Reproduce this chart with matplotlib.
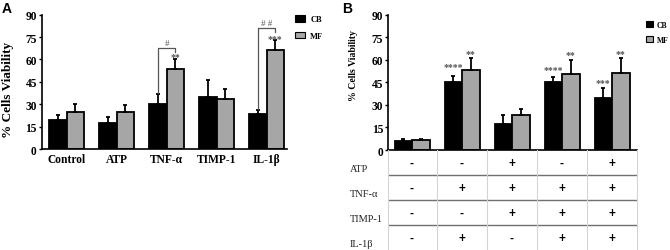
import numpy as np
import matplotlib.pyplot as plt
from matplotlib.patches import Patch

# Panel A data
groups_a = ["Control", "ATP", "TNF-α", "TIMP-1", "IL-1β"]
cb_a = [19.5, 17.2, 30.1, 35.0, 23.4]
cb_a_top = [22.5, 21.6, 37.0, 46.0, 26.1]
mf_a = [25.0, 24.8, 53.6, 33.5, 66.3]
mf_a_top = [30.0, 29.7, 60.3, 40.2, 73.0]

# Panel B data
cb_b = [6.0, 45.5, 17.6, 45.5, 34.7]
cb_b_top = [7.1, 49.0, 23.5, 48.8, 41.0]
mf_b = [6.5, 53.2, 23.0, 50.3, 51.2]
mf_b_top = [7.0, 61.5, 27.0, 60.0, 61.0]
stars_cb_b = ["", "****", "", "****", "***"]
stars_mf_b = ["", "**", "", "**", "**"]

table_rows = ["ATP", "TNF-α", "TIMP-1", "IL-1β"]
table_signs = [["-", "-", "+", "-", "+"],
               ["-", "+", "+", "+", "+"],
               ["-", "-", "+", "+", "+"],
               ["-", "+", "-", "+", "+"]]

serif = "Liberation Serif"
sans = "Liberation Sans"
gray = "#a6a6a6"
note = "#555555"
w = 0.35

fig = plt.figure(figsize=(6.7, 2.51), dpi=100)


def style(ax):
    for s in ["top", "right"]:
        ax.spines[s].set_visible(False)
    for s in ["left", "bottom"]:
        ax.spines[s].set_linewidth(1.2)
    ax.set_ylim(0, 90)
    ax.set_yticks(np.arange(0, 91, 15))
    ax.tick_params(axis="y", length=2.5, width=1, pad=1)
    ax.tick_params(axis="x", length=0)
    for t in ax.get_yticklabels():
        t.set_fontfamily(serif)
        t.set_fontweight("bold")
        t.set_fontsize(8.3)


def bars(ax, cb, cb_top, mf, mf_top):
    x = np.arange(len(cb))
    cb = np.array(cb)
    mf = np.array(mf)
    ekw = dict(elinewidth=1.3, capthick=1.3)
    ax.bar(x - w / 2, cb, w, color="black", edgecolor="black", linewidth=1.3,
           yerr=[np.zeros_like(cb), np.array(cb_top) - cb], capsize=1.4,
           error_kw=ekw, label="CB")
    ax.bar(x + w / 2, mf, w, color=gray, edgecolor="black", linewidth=1.3,
           yerr=[np.zeros_like(mf), np.array(mf_top) - mf], capsize=1.4,
           error_kw=ekw, label="MF")
    return x


# ---- Panel A ----
axa = fig.add_axes([41.7 / 670, 0.402, 245.3 / 670, 0.5355])
x = bars(axa, cb_a, cb_a_top, mf_a, mf_a_top)
axa.set_xlim(-0.5, 4.41)
axa.set_xticks(x)
axa.set_xticklabels(groups_a, fontfamily=serif, fontweight="bold", fontsize=8.3)
axa.tick_params(axis="x", pad=3)
style(axa)

# brackets
def bracket(ax, i, y, left_low, right_low):
    ax.plot([i - w / 2, i - w / 2, i + w / 2, i + w / 2],
            [left_low, y, y, right_low], color=note, lw=0.9)

bracket(axa, 2, 67.5, 37.8, 64.8)
bracket(axa, 4, 80.9, 26.8, 78.2)
axa.text(2, 71.0, "#", ha="center", va="center", fontsize=6.5, color=note, fontfamily=serif)
axa.text(4, 84.4, "# #", ha="center", va="center", fontsize=6.5, color=note, fontfamily=serif)
axa.text(2 + w / 2, 62.0, "**", ha="center", va="center", fontsize=7, color=note, fontfamily=serif, fontweight="bold")
axa.text(4 + w / 2, 73.8, "***", ha="center", va="center", fontsize=7, color=note, fontfamily=serif, fontweight="bold")

fig.text(8 / 670, 0.641, "% Cells Viability", rotation=90, ha="center", va="center",
         fontfamily=serif, fontweight="bold", fontsize=9.5)
fig.text(2 / 670, 1 - 2 / 251, "A", ha="left", va="top", fontfamily=sans, fontweight="bold", fontsize=10)

h = [Patch(facecolor="black", edgecolor="black", lw=0.8),
     Patch(facecolor=gray, edgecolor="black", lw=0.8)]
axa.legend(h, ["CB", "MF"], loc="upper left", bbox_to_anchor=(291 / 670, 1 - 12 / 251),
           bbox_transform=fig.transFigure, frameon=False, borderpad=0,
           handlelength=1.2, handleheight=0.85, handletextpad=0.6, labelspacing=1.0,
           prop=dict(family=serif, weight="bold", size=6))

# ---- Panel B ----
axb = fig.add_axes([388 / 670, 0.3984, 249 / 670, 0.539])
x = bars(axb, cb_b, cb_b_top, mf_b, mf_b_top)
axb.set_xlim(-0.48, 4.5)
axb.set_xticks([])
style(axb)
for i in range(len(x)):
    if stars_cb_b[i]:
        axb.text(i - w / 2, [0, 55.5, 0, 53.3, 44.9][i], stars_cb_b[i], ha="center", va="center",
                 fontsize=7, color=note, fontfamily=serif, fontweight="bold")
    if stars_mf_b[i]:
        axb.text(i + w / 2, [0, 64.4, 0, 63.7, 64.4][i], stars_mf_b[i], ha="center", va="center",
                 fontsize=7, color=note, fontfamily=serif, fontweight="bold")

fig.text(354 / 670, 0.737, "% Cells Viability", rotation=90, ha="center", va="center",
         fontfamily=serif, fontweight="bold", fontsize=7)
fig.text(342 / 670, 1 - 2 / 251, "B", ha="left", va="top", fontfamily=sans, fontweight="bold", fontsize=10)

axb.legend(h, ["CB", "MF"], loc="upper left", bbox_to_anchor=(642 / 670, 1 - 18 / 251),
           bbox_transform=fig.transFigure, frameon=False, borderpad=0,
           handlelength=0.9, handleheight=0.7, handletextpad=0.5, labelspacing=0.9,
           prop=dict(family=serif, weight="bold", size=5.5))

# ---- Table under B ----
axt = fig.add_axes([388 / 670, 0.0, 249 / 670, 0.3984])
axt.set_xlim(-0.48, 4.5)
axt.set_ylim(4, 0)
axt.axis("off")
for k in range(1, 4):
    axt.axhline(k, color="#707070", lw=1.0)
for k in [-0.48, 0.5, 1.5, 2.5, 3.5, 4.5]:
    axt.plot([k, k], [0, 4], color="#d4d4d4", lw=0.8, clip_on=False)
for r, name in enumerate(table_rows):
    axt.text(-1.24, r + 0.72, name, ha="left", va="center", fontfamily=serif,
             fontsize=7.5, color="#222222", clip_on=False)
    for c, s in enumerate(table_signs[r]):
        axt.text(c, r + 0.52, s, ha="center", va="center", fontfamily=sans,
                 fontweight="bold", fontsize=8.5, color="black")

fig.savefig("out.png", dpi=100)
